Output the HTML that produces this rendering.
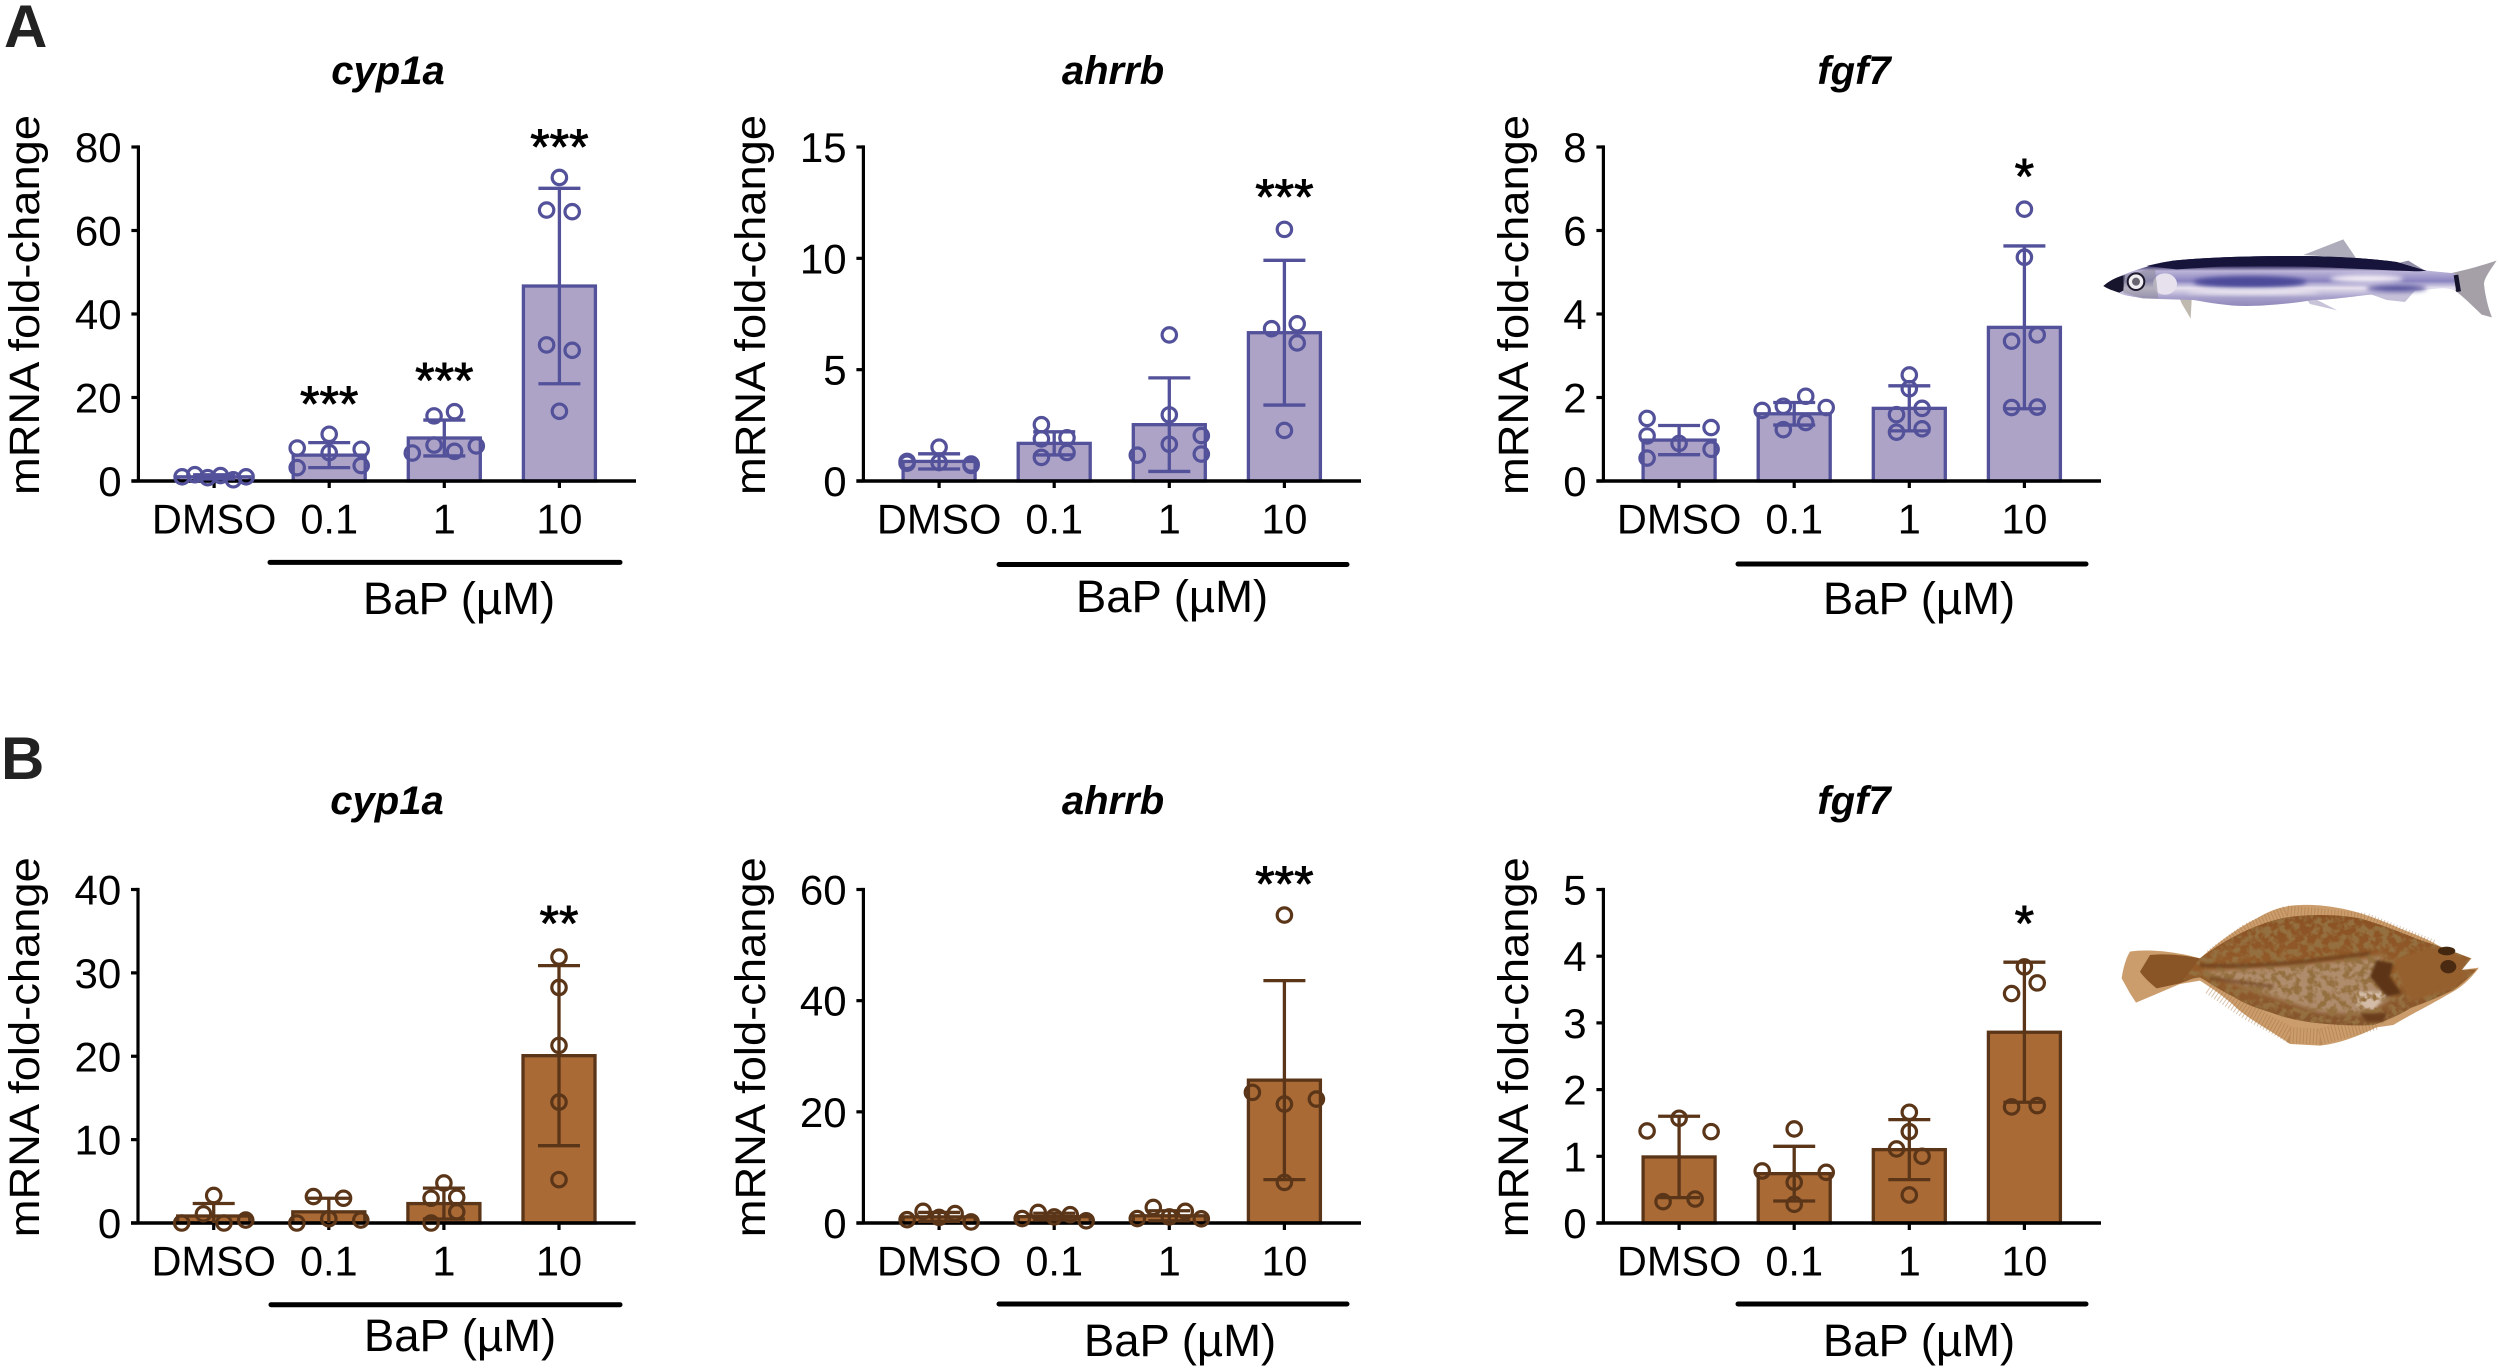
<!DOCTYPE html>
<html lang="en">
<head>
<meta charset="utf-8">
<title>mRNA fold-change after BaP exposure</title>
<style>
html,body{margin:0;padding:0;background:#fff;}
svg{display:block;font-family:"Liberation Sans",Arial,sans-serif;}
</style>
</head>
<body>
<svg id="figure" xmlns="http://www.w3.org/2000/svg" width="2500" height="1368" viewBox="0 0 2500 1368">
  <defs>
    <linearGradient id="smeltBody" x1="0" y1="0" x2="0" y2="1">
      <stop offset="0" stop-color="#1b1742"/>
      <stop offset=".2" stop-color="#2a2658"/>
      <stop offset=".3" stop-color="#bdb5d8"/>
      <stop offset=".5" stop-color="#8a84c0"/>
      <stop offset=".64" stop-color="#e6e0ee"/>
      <stop offset=".82" stop-color="#a9a2cc"/>
      <stop offset="1" stop-color="#8f88ba"/>
    </linearGradient>
    <linearGradient id="flounderBody" x1="0" y1="0" x2="0" y2="1">
      <stop offset="0" stop-color="#8a5224"/>
      <stop offset=".5" stop-color="#935b29"/>
      <stop offset="1" stop-color="#84552e"/>
    </linearGradient>
    <filter id="soft" x="-20%" y="-60%" width="140%" height="220%"><feGaussianBlur stdDeviation="7"/></filter>
    <filter id="soft2" x="-20%" y="-40%" width="140%" height="180%"><feGaussianBlur stdDeviation="4"/></filter>
    <filter id="mottle" x="0" y="0" width="100%" height="100%">
      <feTurbulence type="fractalNoise" baseFrequency=".045" numOctaves="3" seed="7" result="noise"/>
      <feColorMatrix in="noise" type="matrix" values="0 0 0 0 .30  0 0 0 0 .16  0 0 0 0 .05  0 0 4.5 0 -1.9" result="spots"/>
      <feComposite in="spots" in2="SourceAlpha" operator="in"/>
    </filter>
  </defs>
  <text x="4" y="47" font-size="60" font-weight="700" fill="#222">A</text>
  <text x="1" y="779" font-size="60" font-weight="700" fill="#222">B</text>
  <g id="charts"></g>

  <g transform="translate(2080 220) scale(.3333)">
    <path fill="#aeabba" d="M670 105L790 58L828 114Z"/>
    <path fill="#8f8ca8" d="M960 128L985 122L1032 150Z"/>
    <path fill="#a5a0a8" d="M1110 160C1160 150 1210 135 1250 122C1235 145 1215 170 1212 190C1215 225 1225 265 1236 292L1205 284C1180 260 1150 230 1125 212Z"/>
    <path fill="#c0b9b0" d="M290 215L335 240L332 296L305 250Z"/>
    <path fill="#c8c3d8" d="M680 238L712 240L772 271L690 252Z"/>
    <path fill="#c5c0d8" d="M870 222L1005 212L975 246L920 240Z"/>
    <path fill="url(#smeltBody)" d="M70 198C100 172 180 140 280 122C400 110 550 108 650 108C760 108 880 116 950 126C985 135 1010 145 1040 152L1125 160L1135 212C1105 205 1090 204 1080 205C1000 212 930 220 860 225C780 235 740 240 700 240C640 250 560 258 500 258C440 258 390 248 340 240C290 238 240 238 190 235C160 230 130 226 120 220Z"/>
    <path fill="#17143c" d="M200 138C230 130 255 126 280 122C400 110 550 108 650 108C760 108 880 116 950 126C985 135 1010 145 1040 152C1010 156 980 152 950 152L800 145C700 140 620 136 420 140L290 148Z"/>
    <ellipse cx="510" cy="186" rx="170" ry="18" fill="#4b4899" filter="url(#soft)"/>
    <ellipse cx="950" cy="205" rx="90" ry="10" fill="#4f4c98" filter="url(#soft)"/>
    <ellipse cx="860" cy="176" rx="110" ry="11" fill="#f6f0f7" filter="url(#soft)"/>
    <ellipse cx="520" cy="216" rx="200" ry="7" fill="#f3eef4" filter="url(#soft)"/>
    <ellipse cx="255" cy="192" rx="36" ry="32" fill="#e6e1ec"/>
    <path fill="#17142e" d="M70 198C85 185 105 172 135 165L130 212L118 218C100 212 85 208 70 198Z"/>
    <path fill="#8d8a98" d="M130 165L225 145L235 235L190 235L130 218Z" opacity=".55"/>
    <circle cx="168" cy="185" r="25" fill="#f0eef2" stroke="#1c1a2c" stroke-width="6"/>
    <circle cx="168" cy="185" r="12" fill="#66646f"/>
    <path stroke="#15132c" stroke-width="14" fill="none" d="M1128 165L1136 215"/>
  </g>

  <g transform="translate(2100 890) scale(.3333)">
    <path fill="#cb9d6c" d="M65 265C70 230 80 200 90 185C130 178 210 180 300 205C340 170 400 120 470 85C520 55 560 42 640 45C740 50 820 80 900 115C950 135 990 150 1020 170L1115 205L1085 240L1137 233C1110 270 1080 295 1050 310C990 345 930 375 880 405L830 412C770 440 720 460 660 467L570 462C510 420 440 385 400 345C360 310 320 285 300 272L240 282L108 338L90 310Z"/>
    <path fill="none" stroke="#9f6c3a" stroke-width="32" stroke-dasharray="3 7" opacity=".4" d="M330 195L440 115L560 62L800 85L1000 165"/>
    <path fill="none" stroke="#9f6c3a" stroke-width="48" stroke-dasharray="3 7" opacity=".4" d="M330 290L440 365L570 435L660 440L830 395"/>
    <path fill="#8a5526" d="M150 195C200 190 250 195 300 205L280 265L240 280L170 295C150 280 130 260 120 245Z"/>
    <path fill="url(#flounderBody)" d="M300 205C340 175 440 105 560 82C650 70 720 75 780 85C850 105 910 130 960 150L1020 170L1112 205L1085 240L1130 238C1100 270 1080 285 1060 300C1020 320 970 340 930 355C890 380 850 395 820 405C770 408 710 405 660 400C610 395 560 385 520 370C470 355 430 340 400 320C360 300 330 280 300 262L250 270Z"/>
    <path fill="#b59578" opacity=".85" filter="url(#soft)" d="M300 245L560 228L780 208L850 195L825 280L875 325L800 375L660 368L500 315Z"/>
    <path fill="#d3bca8" filter="url(#soft2)" d="M770 305L870 305L820 360L770 350Z"/>
    <path fill="#000" filter="url(#mottle)" d="M300 205C340 175 440 105 560 82C650 70 720 75 780 85C850 105 910 130 960 150L1020 170L1112 205L1085 240L1130 238C1100 270 1080 285 1060 300C1020 320 970 340 930 355C890 380 850 395 820 405C770 408 710 405 660 400C610 395 560 385 520 370C470 355 430 340 400 320C360 300 330 280 300 262L250 270Z"/>
    <path fill="none" stroke="#6d3f1b" stroke-width="12" opacity=".75" filter="url(#soft2)" d="M300 225C400 232 560 222 650 210L810 190"/>
    <path fill="none" stroke="#6d3f1b" stroke-width="12" opacity=".6" filter="url(#soft2)" d="M330 265L520 290"/>
    <path fill="#5d3515" filter="url(#soft2)" d="M830 210L880 220L870 260L905 310L860 320L810 260Z"/>
    <path fill="#6b3e1b" filter="url(#soft2)" d="M780 370L860 370L850 395L800 395Z"/>
    <path fill="#96602d" filter="url(#soft2)" d="M880 210L1010 170L1100 208L1080 245L1120 240L1060 295L930 335L905 280Z"/>
    <ellipse cx="1040" cy="183" rx="26" ry="13" fill="#43270f"/>
    <ellipse cx="1045" cy="230" rx="24" ry="20" fill="#4a2b12"/>
  </g>
</svg>
<script>
// Shared categories
const categories = ['DMSO', '0.1', '1', '10'];

// Tick labels
const smeltCyp1aTicks = [0, 20, 40, 60, 80];
const smeltAhrrbTicks = [0, 5, 10, 15];
const smeltFgf7Ticks = [0, 2, 4, 6, 8];
const flounderCyp1aTicks = [0, 10, 20, 30, 40];
const flounderAhrrbTicks = [0, 20, 40, 60];
const flounderFgf7Ticks = [0, 1, 2, 3, 4, 5];

// Bar means
const smeltCyp1aMeans = [1, 6.2, 10.3, 46.7];
const smeltAhrrbMeans = [0.88, 1.69, 2.53, 6.66];
const smeltFgf7Means = [0.98, 1.61, 1.74, 3.68];
const flounderCyp1aMeans = [0.84, 1.34, 2.33, 20.07];
const flounderAhrrbMeans = [1.1, 1.15, 1.3, 25.7];
const flounderFgf7Means = [0.99, 0.74, 1.1, 2.86];

// Standard deviations
const smeltCyp1aSds = [0.5, 3, 4.3, 23.4];
const smeltAhrrbSds = [0.34, 0.52, 2.1, 3.25];
const smeltFgf7Sds = [0.35, 0.27, 0.54, 1.95];
const flounderCyp1aSds = [1.5, 1.63, 1.85, 10.8];
const flounderAhrrbSds = [0.8, 0.6, 0.9, 17.9];
const flounderFgf7Sds = [0.61, 0.41, 0.45, 1.05];

// Individual replicate values, one list per category
const smeltCyp1aPoints = [[1, 1.5, 0.8, 1.3, 0.3, 1], [11.2, 7.9, 7.6, 6.8, 3.2, 3.7], [15.6, 16.6, 8.6, 7.1, 6.7, 8.4], [72.7, 64.9, 64.5, 32.6, 31.3, 16.7]];
const smeltAhrrbPoints = [[1.52, 0.88, 0.76, 0.83, 0.8, 0.7], [2.53, 1.89, 1.94, 1.06, 1.28], [6.56, 2.97, 1.65, 2.04, 1.21, 1.16], [11.3, 6.84, 7.06, 6.2, 2.27]];
const smeltFgf7Points = [[1.5, 1.28, 1.08, 0.9, 0.76, 0.55], [2.03, 1.79, 1.76, 1.69, 1.4, 1.23], [2.54, 2.21, 1.74, 1.59, 1.25, 1.17], [6.51, 5.36, 3.5, 3.35, 1.76, 1.77]];
const flounderCyp1aPoints = [[3.3, 1.1, 0, 0, 0.35], [3.17, 2.97, 0.5, 0, 0.35], [4.8, 2.97, 3.07, 1.34, 0], [31.9, 28.25, 21.3, 14.5, 5.2]];
const flounderAhrrbPoints = [[0.6, 2.1, 1, 1.7, 0.2], [0.8, 1.9, 1.1, 1.5, 0.4], [0.8, 2.8, 1.1, 2.1, 0.75], [55.4, 23.5, 22.3, 21.4, 7.3]];
const flounderFgf7Points = [[1.57, 1.38, 1.37, 0.36, 0.32], [1.41, 0.78, 0.76, 0.61, 0.28], [1.66, 1.37, 1.11, 1, 0.42], [3.84, 3.6, 3.44, 1.76, 1.74]];

// Ordinal swarm slots (dimensionless rank left or right of the bar centre)
const smeltCyp1aSwarm = [[-2.5, -1.5, -0.5, 0.5, 1.5, 2.5], [0, -2.5, 2.5, 0, -2.5, 2.5], [-0.8, 0.8, -0.8, 0.8, -2.5, 2.5], [0, -1, 1, -1, 1, 0]];
const smeltAhrrbSwarm = [[0, -2.5, 2.5, 0, -2.5, 2.5], [-1, -1, 1, -1, 1], [0, 0, 0, 2.5, 2.5, -2.5], [0, -1, 1, 1, 0]];
const smeltFgf7Swarm = [[-2.5, 2.5, -2.5, 0, 2.5, -2.5], [0.9, -0.85, 2.5, -2.5, 0.9, -0.85], [0, 0, 1, -1, 1, -1], [0, 0, 1, -1, -1, 1]];
const flounderCyp1aSwarm = [[0, -0.8, -2.5, 0.8, 2.5], [-1.2, 1.15, 0, -2.5, 2.5], [0, -1, 1, 1, -1], [0, 0, 0, 0, 0]];
const flounderAhrrbSwarm = [[-2.5, -1.25, 0, 1.25, 2.5], [-2.5, -1.25, 0, 1.25, 2.5], [-2.5, -1.25, 0, 1.25, 2.5], [0, -2.5, 2.5, 0, 0]];
const flounderFgf7Swarm = [[0, -2.5, 2.5, 1.25, -1.25], [0, -2.5, 2.5, 0, 0], [0, 0, -1, 1, 0], [0, 1, -1, 1, -1]];

// Significance markers
const smeltCyp1aStars = ['', '***', '***', '***'];
const smeltAhrrbStars = ['', '', '', '***'];
const smeltFgf7Stars = ['', '', '', '*'];
const flounderCyp1aStars = ['', '', '', '**'];
const flounderAhrrbStars = ['', '', '', '***'];
const flounderFgf7Stars = ['', '', '', '*'];

const SMELT = { fill: '#aca3c6', stroke: '#52519a' };
const FLOUNDER = { fill: '#a96a36', stroke: '#5a3518' };
const NS = 'http://www.w3.org/2000/svg';
const chartsRoot = document.getElementById('charts');

function make(parent, tag, attrs, text) {
  const el = document.createElementNS(NS, tag);
  for (const k in attrs) el.setAttribute(k, attrs[k]);
  if (text !== undefined) el.textContent = text;
  parent.appendChild(el);
  return el;
}

function drawPanel(p) {
  const g = make(chartsRoot, 'g', {});
  
  

  const yMax = p.ticks[p.ticks.length - 1];
  const yScale = v => p.base - (v / yMax) * (p.base - p.top);
  const xScale = i => p.axisX + 75.7 + i * 115.1;
  const swarmUnit = 12.8;
  const markStroke = 3.3;

  const title = make(g, 'text', { x: p.titleX, y: p.titleY, 'font-size': 40, 'font-weight': 700, 'font-style': 'italic', 'text-anchor': 'middle' }, p.title);
  
  

  const yTitle = make(g, 'text', { transform: 'translate(' + (p.yTitleX + 1) + ' ' + ((p.top + p.base) / 2 - 9) + ') rotate(-90)', 'font-size': 43, 'text-anchor': 'middle', textLength: 380, lengthAdjust: 'spacingAndGlyphs' }, 'mRNA fold-change');
  
  

  categories.forEach((cat, i) => {
    const bar = make(g, 'rect', { x: xScale(i) - 36, y: yScale(p.means[i]), width: 72, height: p.base - yScale(p.means[i]), fill: p.color.fill, stroke: p.color.stroke, 'stroke-width': markStroke });
    
    
  });

  const yAxis = make(g, 'line', { x1: p.axisX, x2: p.axisX, y1: p.top - 1.6, y2: p.base, stroke: '#000', 'stroke-width': 3.2 });
  
  
  const xAxis = make(g, 'line', { x1: p.axisX - 7, x2: p.axisX + 497.6, y1: p.base, y2: p.base, stroke: '#000', 'stroke-width': 3.4 });
  
  

  p.ticks.forEach(t => {
    const tick = make(g, 'line', { x1: p.axisX - 7, x2: p.axisX, y1: yScale(t), y2: yScale(t), stroke: '#000', 'stroke-width': 3.2 });
    
    
    const label = make(g, 'text', { x: p.axisX - 16.8, y: yScale(t) + 15, 'font-size': 42, 'text-anchor': 'end' }, String(t));
    
    
  });

  categories.forEach((cat, i) => {
    const cx = xScale(i);
    const tick = make(g, 'line', { x1: cx, x2: cx, y1: p.base, y2: p.base + 7, stroke: '#000', 'stroke-width': 3.2 });
    
    
    const label = make(g, 'text', { x: cx, y: p.base + 52.5, 'font-size': 41.5, 'text-anchor': 'middle' }, cat);
    
    

    const hi = p.means[i] + p.sds[i];
    const lo = Math.max(0, p.means[i] - p.sds[i]);
    const stem = make(g, 'line', { x1: cx, x2: cx, y1: yScale(hi), y2: yScale(lo), stroke: p.color.stroke, 'stroke-width': markStroke });
    
    
    const capHi = make(g, 'line', { x1: cx - 21, x2: cx + 21, y1: yScale(hi), y2: yScale(hi), stroke: p.color.stroke, 'stroke-width': markStroke });
    
    
    if (lo > 0) {
      const capLo = make(g, 'line', { x1: cx - 21, x2: cx + 21, y1: yScale(lo), y2: yScale(lo), stroke: p.color.stroke, 'stroke-width': markStroke });
      
      
    }

    p.points[i].forEach((v, j) => {
      const dot = make(g, 'circle', { cx: cx + p.swarm[i][j] * swarmUnit, cy: yScale(v), r: 7.2, fill: 'none', stroke: p.color.stroke, 'stroke-width': 3.2 });
      
      
    });

    if (p.stars[i]) {
      const star = make(g, 'text', { x: cx, y: p.starY[i] + 23, 'font-size': 50, 'text-anchor': 'middle', stroke: '#000', 'stroke-width': 0.9 }, p.stars[i]);
      
      
    }
  });

  const bracket = make(g, 'line', { x1: p.bracket[0], x2: p.bracket[1], y1: p.bracket[2], y2: p.bracket[2], stroke: '#000', 'stroke-width': 5, 'stroke-linecap': 'round' });
  
  
  const bap = make(g, 'text', { x: p.bapX, y: p.bapY, 'font-size': 45.5, 'text-anchor': 'middle' }, 'BaP (µM)');
  
  
}

drawPanel({ name: 'smelt-cyp1a', title: 'cyp1a', color: SMELT, axisX: 138.4, top: 147, base: 481, titleX: 388, titleY: 84, yTitleX: 38,
  ticks: smeltCyp1aTicks, means: smeltCyp1aMeans, sds: smeltCyp1aSds, points: smeltCyp1aPoints, swarm: smeltCyp1aSwarm, stars: smeltCyp1aStars,
  starY: [0, 398, 374.7, 140.8], bracket: [270, 620, 562.4], bapX: 459, bapY: 614 });
drawPanel({ name: 'smelt-ahrrb', title: 'ahrrb', color: SMELT, axisX: 863.4, top: 147, base: 481, titleX: 1113, titleY: 84, yTitleX: 764,
  ticks: smeltAhrrbTicks, means: smeltAhrrbMeans, sds: smeltAhrrbSds, points: smeltAhrrbPoints, swarm: smeltAhrrbSwarm, stars: smeltAhrrbStars,
  starY: [0, 0, 0, 191], bracket: [999, 1347, 564.5], bapX: 1172, bapY: 612 });
drawPanel({ name: 'smelt-fgf7', title: 'fgf7', color: SMELT, axisX: 1603.4, top: 147, base: 481, titleX: 1854, titleY: 84, yTitleX: 1527,
  ticks: smeltFgf7Ticks, means: smeltFgf7Means, sds: smeltFgf7Sds, points: smeltFgf7Points, swarm: smeltFgf7Swarm, stars: smeltFgf7Stars,
  starY: [0, 0, 0, 170.6], bracket: [1738, 2086, 564], bapX: 1919, bapY: 614 });
drawPanel({ name: 'flounder-cyp1a', title: 'cyp1a', color: FLOUNDER, axisX: 138, top: 889.5, base: 1223, titleX: 387, titleY: 814, yTitleX: 38,
  ticks: flounderCyp1aTicks, means: flounderCyp1aMeans, sds: flounderCyp1aSds, points: flounderCyp1aPoints, swarm: flounderCyp1aSwarm, stars: flounderCyp1aStars,
  starY: [0, 0, 0, 917.5], bracket: [271, 620, 1304.7], bapX: 460, bapY: 1351 });
drawPanel({ name: 'flounder-ahrrb', title: 'ahrrb', color: FLOUNDER, axisX: 863.4, top: 889.5, base: 1223, titleX: 1113, titleY: 814, yTitleX: 764,
  ticks: flounderAhrrbTicks, means: flounderAhrrbMeans, sds: flounderAhrrbSds, points: flounderAhrrbPoints, swarm: flounderAhrrbSwarm, stars: flounderAhrrbStars,
  starY: [0, 0, 0, 877.9], bracket: [999, 1347, 1304], bapX: 1180, bapY: 1356 });
drawPanel({ name: 'flounder-fgf7', title: 'fgf7', color: FLOUNDER, axisX: 1603.4, top: 889.5, base: 1223, titleX: 1854, titleY: 814, yTitleX: 1527,
  ticks: flounderFgf7Ticks, means: flounderFgf7Means, sds: flounderFgf7Sds, points: flounderFgf7Points, swarm: flounderFgf7Swarm, stars: flounderFgf7Stars,
  starY: [0, 0, 0, 917.5], bracket: [1738, 2086, 1304], bapX: 1919, bapY: 1356 });
</script>
</body>
</html>
